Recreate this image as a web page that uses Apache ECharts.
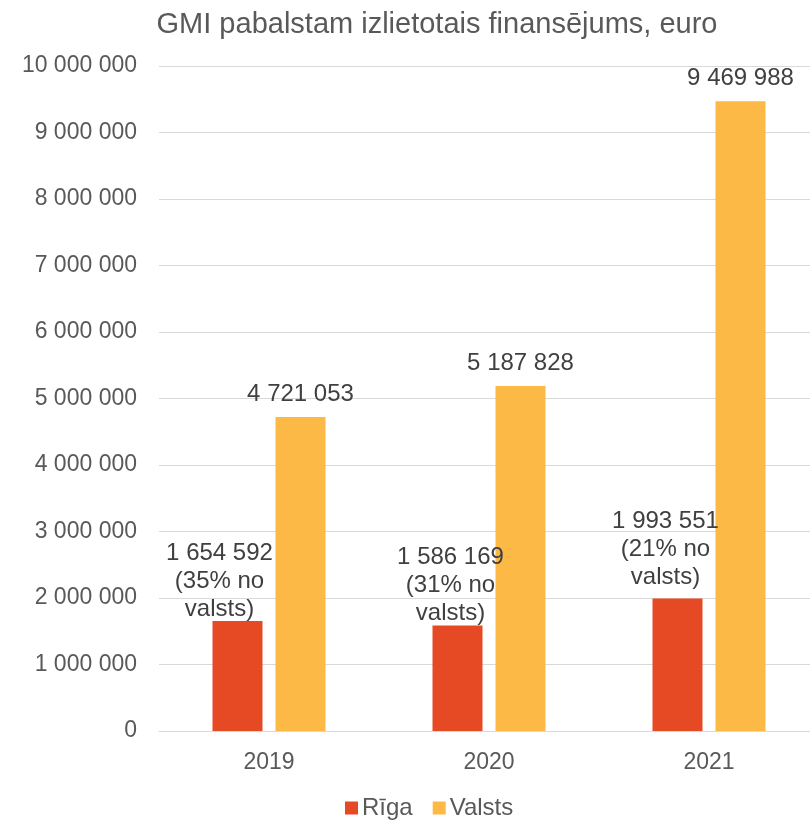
<!DOCTYPE html>
<html>
<head>
<meta charset="utf-8">
<script src="https://cdn.jsdelivr.net/npm/echarts@6/dist/echarts.min.js"></script>
<style>
  html, body { margin: 0; padding: 0; background: #fff; }
  #chart { width: 810px; height: 822px; }
</style>
</head>
<body>
<div id="chart"></div>
<script>
const years = ['2019', '2020', '2021'];
const rigaValues = [1654592, 1586169, 1993551];
const valstsValues = [4721053, 5187828, 9469988];
const rigaShare = [35, 31, 21];
const yTicks = [0, 1000000, 2000000, 3000000, 4000000, 5000000, 6000000, 7000000, 8000000, 9000000, 10000000];

const fmt = v => String(v).replace(/\B(?=(\d{3})+(?!\d))/g, ' ');
const font = '"Liberation Sans", Arial, sans-serif';

// Rīga label sits a bit left of its bar, like in Excel
const rigaOffsets = [[-18, 4], [-7, 4], [-12, -5]];

const myChart = echarts.init(document.getElementById('chart'), null, { renderer: 'canvas' });
const option = {
    animation: false,
    title: {
        text: 'GMI pabalstam izlietotais finansējums, euro',
        left: 432,
        textAlign: 'center',
        top: 5,
        textStyle: { fontFamily: font, fontSize: 29, fontWeight: 'normal', color: '#595959' },
    },
    legend: {
        bottom: -3,
        left: 340,
        itemWidth: 13,
        itemHeight: 13,
        itemGap: 20,
        icon: 'rect',
        textStyle: { fontFamily: font, fontSize: 24, color: '#595959', padding: [0, 0, 0, -1] },
        data: ['Rīga', 'Valsts'],
    },
    grid: { left: 159, width: 660, top: 66, bottom: 91, containLabel: false, outerBoundsMode: 'none' },
    xAxis: {
        type: 'category',
        data: years,
        axisTick: { show: false },
        axisLine: { lineStyle: { color: '#d9d9d9', width: 1 } },
        axisLabel: { fontFamily: font, fontSize: 23, color: '#595959', margin: 20 },
    },
    yAxis: {
        type: 'value',
        min: yTicks[0],
        max: yTicks[yTicks.length - 1],
        interval: yTicks[1] - yTicks[0],
        axisLine: { show: false },
        axisTick: { show: false },
        splitLine: { lineStyle: { color: '#d9d9d9', width: 1 } },
        axisLabel: { fontFamily: font, fontSize: 23, color: '#595959', margin: 22, formatter: fmt },
    },
    series: [
        {
            name: 'Rīga',
            type: 'bar',
            barWidth: 50,
            barGap: '26%',
            itemStyle: { color: '#E64A24' },
            data: rigaValues.map((v, i) => ({
                value: v,
                label: { offset: rigaOffsets[i] },
            })),
            label: {
                show: true,
                position: 'top',
                distance: 2,
                fontFamily: font,
                fontSize: 24,
                lineHeight: 28,
                color: '#404040',
                formatter: p => fmt(p.value) + '\n(' + rigaShare[p.dataIndex] + '% no\nvalsts)',
            },
        },
        {
            name: 'Valsts',
            type: 'bar',
            barWidth: 50,
            itemStyle: { color: '#FDB945' },
            data: valstsValues,
            label: {
                show: true,
                position: 'top',
                distance: 11,
                fontFamily: font,
                fontSize: 24,
                color: '#404040',
                formatter: p => fmt(p.value),
            },
        },
    ],
};
myChart.setOption(option);
</script>
</body>
</html>
